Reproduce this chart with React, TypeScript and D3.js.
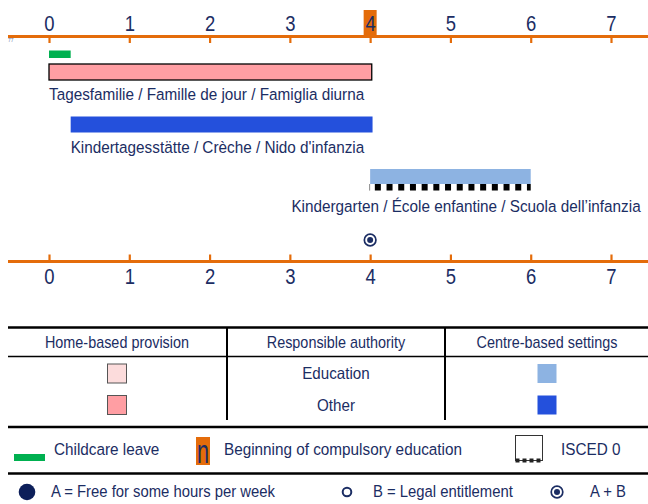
import React, { useRef, useEffect } from 'react'
import * as d3 from 'd3'

// ages on the axis (years)
const years = [0, 1, 2, 3, 4, 5, 6, 7]
const compulsoryAge = 4
const childcareLeave = [0, 0.27]

// settings shown as bars
const settingLabels = [
  'Tagesfamilie / Famille de jour / Famiglia diurna',
  "Kindertagesstätte / Crèche / Nido d'infanzia",
  'Kindergarten / École enfantine / Scuola dell’infanzia',
]
const settingStart = [0, 0.27, 4]
const settingEnd = [4.02, 4.03, 6]
const settingType = ['home-other', 'centre-other', 'centre-education']
const settingIsced = [false, false, true]
const entitlementAges = [4] // A + B

// legend table
const tableHeaders = ['Home-based provision', 'Responsible authority', 'Centre-based settings']
const authorities = ['Education', 'Other']
const authorityKeys = ['education', 'other']

const FONT = "'Liberation Sans', Arial, sans-serif"
const NAVY = '#1b2d63'
const ORANGE = '#e46c0a'
const colors: Record<string, string> = {
  'home-education': '#fcdcdc',
  'home-other': '#ff9ea3',
  'centre-education': '#8db3e2',
  'centre-other': '#2450dc',
}

// no narrow font installed, so squeeze the glyphs horizontally (about their x) like Arial Narrow
const condense = (sel: d3.Selection<any, any, any, any>, k = 0.9) => {
  sel.each(function (this: SVGTextElement) {
    const tx = +(this.getAttribute('x') || 0)
    d3.select(this).attr('transform', `translate(${tx},0) scale(${k},1) translate(${-tx},0)`)
  })
  return sel
}

const App = () => {
  const svgRef = useRef<SVGSVGElement>(null)

  useEffect(() => {
    const svg = d3.select(svgRef.current)
    svg.selectAll('*').remove()
    svg.attr('font-family', FONT)

    const left = 8
    const right = 648
    const x = d3.scaleLinear().domain([0, 7]).range([49, 611])

    // tiny note in the corner
    svg.append('text').attr('x', 8).attr('y', 42).attr('font-size', 5).attr('fill', '#6878a8').text('77')

    // highlight of the compulsory age
    svg.append('rect')
      .attr('x', x(compulsoryAge) - 6.5).attr('y', 10)
      .attr('width', 13).attr('height', 26)
      .attr('fill', ORANGE)

    const drawAxis = (y: number, axis: d3.Axis<d3.NumberValue>) => {
      svg.append('line')
        .attr('x1', left).attr('x2', right).attr('y1', y).attr('y2', y)
        .attr('stroke', ORANGE).attr('stroke-width', 3)
      const g = svg.append('g').attr('transform', `translate(0,${y})`).call(axis)
      g.select('.domain').remove()
      g.attr('font-family', FONT).attr('font-size', 22)
      g.selectAll('.tick line').attr('stroke', ORANGE).attr('stroke-width', 2.2)
      condense(g.selectAll('.tick text').attr('fill', NAVY), 0.84)
    }

    drawAxis(36.5, d3.axisTop(x).tickValues(years).tickSize(-6.5).tickPadding(5.5).tickFormat(d3.format('d')))
    drawAxis(261.5, d3.axisBottom(x).tickValues(years).tickSize(-7).tickPadding(6.8).tickFormat(d3.format('d')))

    // childcare leave
    svg.append('rect')
      .attr('x', x(childcareLeave[0])).attr('y', 50.5)
      .attr('width', x(childcareLeave[1]) - x(childcareLeave[0])).attr('height', 7.5)
      .attr('fill', '#00b050')

    // setting bars
    const row = d3.scaleLinear().domain([0, 2]).range([64, 169])
    const barH = 16
    settingLabels.forEach((label, i) => {
      const top = row(i)
      const x0 = x(settingStart[i])
      const x1 = x(settingEnd[i])
      const isHome = settingType[i].startsWith('home')
      svg.append('rect')
        .attr('x', x0).attr('y', top)
        .attr('width', x1 - x0).attr('height', settingIsced[i] ? barH - 1 : barH)
        .attr('fill', colors[settingType[i]])
        .attr('stroke', isHome ? '#000' : 'none')
        .attr('stroke-width', 1.3)

      let extra = 0
      if (settingIsced[i]) {
        const sy = top + barH - 1 + 3.3
        svg.append('line')
          .attr('x1', x0).attr('x2', x1).attr('y1', sy).attr('y2', sy)
          .attr('stroke', '#000').attr('stroke-width', 6.5)
          .attr('stroke-dasharray', '6 5.7').attr('stroke-dashoffset', 7)
        svg.append('line')
          .attr('x1', x0 - 0.5).attr('x2', x0 - 0.5).attr('y1', sy - 3.3).attr('y2', sy + 3.3)
          .attr('stroke', '#888').attr('stroke-width', 1)
        extra = 6.5
      }

      const t = svg.append('text')
        .attr('x', x0).attr('y', top + barH + extra + 20.5)
        .attr('font-size', 17).attr('fill', NAVY)
        .text(label)
      const w = (t.node() as SVGTextElement).getComputedTextLength() * 0.9
      if (x0 + w > right - 7) t.attr('x', right - 7 - w)
      condense(t)
    })

    const circleDot = (cx: number, cy: number) => {
      svg.append('circle').attr('cx', cx).attr('cy', cy).attr('r', 5.8)
        .attr('fill', '#fff').attr('stroke', NAVY).attr('stroke-width', 1.7)
      svg.append('circle').attr('cx', cx).attr('cy', cy).attr('r', 3).attr('fill', NAVY)
    }
    entitlementAges.forEach(a => circleDot(x(a), 240))

    // table legend
    const cols = [left, 227, 445, right]
    const colMid = [117, 336, 547]
    const hline = (y: number, w: number) => svg.append('line')
      .attr('x1', left).attr('x2', right).attr('y1', y).attr('y2', y)
      .attr('stroke', '#000').attr('stroke-width', w)
    hline(327.5, 2.5)
    hline(356.5, 1.5)
    hline(427, 2.5)
    cols.slice(1, 3).forEach(cx => {
      svg.append('line').attr('x1', cx).attr('x2', cx).attr('y1', 327).attr('y2', 420)
        .attr('stroke', '#000').attr('stroke-width', 2)
    })
    tableHeaders.forEach((h, i) => {
      condense(svg.append('text').attr('x', colMid[i]).attr('y', 348.3)
        .attr('text-anchor', 'middle').attr('font-size', 16).attr('fill', NAVY).text(h))
    })
    const rowMid = [373.5, 405]
    authorities.forEach((a, i) => {
      const cy = rowMid[i]
      svg.append('rect').attr('x', colMid[0] - 9.5).attr('y', cy - 9.5).attr('width', 19).attr('height', 19)
        .attr('fill', colors['home-' + authorityKeys[i]]).attr('stroke', '#555').attr('stroke-width', 1)
      condense(svg.append('text').attr('x', colMid[1]).attr('y', cy + 6)
        .attr('text-anchor', 'middle').attr('font-size', 16.5).attr('fill', NAVY).text(a), 0.92)
      svg.append('rect').attr('x', colMid[2] - 9.5).attr('y', cy - 9.5).attr('width', 19).attr('height', 19)
        .attr('fill', colors['centre-' + authorityKeys[i]])
    })

    // symbol legend
    const legendText = (tx: number, ty: number, s: string, size = 17) =>
      condense(svg.append('text').attr('x', tx).attr('y', ty).attr('font-size', size).attr('fill', NAVY).text(s))

    svg.append('rect').attr('x', 14).attr('y', 454).attr('width', 31).attr('height', 7).attr('fill', '#00b050')
    legendText(54, 455.5, 'Childcare leave')

    svg.append('rect').attr('x', 196).attr('y', 437).attr('width', 14).attr('height', 28).attr('fill', ORANGE)
    svg.append('text').attr('transform', 'translate(203,463) scale(0.9,1.4)')
      .attr('text-anchor', 'middle').attr('font-size', 24).attr('fill', NAVY).text('n')
    legendText(224, 455.5, 'Beginning of compulsory education')

    svg.append('rect').attr('x', 515.5).attr('y', 435.5).attr('width', 27).attr('height', 25)
      .attr('fill', '#fff').attr('stroke', '#333').attr('stroke-width', 1)
    svg.append('line').attr('x1', 515.5).attr('x2', 542.5).attr('y1', 460.5).attr('y2', 460.5)
      .attr('stroke', '#222').attr('stroke-width', 4).attr('stroke-dasharray', '4 3')
    legendText(561, 455.5, 'ISCED 0')

    hline(473.5, 2.5)

    svg.append('circle').attr('cx', 27).attr('cy', 492).attr('r', 8.3).attr('fill', '#0d1f5a')
    legendText(51, 497.5, 'A = Free for some hours per week', 16.5)
    svg.append('circle').attr('cx', 347).attr('cy', 492).attr('r', 4.3)
      .attr('fill', 'none').attr('stroke', NAVY).attr('stroke-width', 2)
    legendText(373, 497.5, 'B = Legal entitlement', 16.5)
    circleDot(557, 492)
    legendText(590, 497.5, 'A + B', 16.5)
  }, [])

  return (
    <svg ref={svgRef} width={648} height={504} style={{ position: 'absolute', left: 0, top: 0 }}></svg>
  )
}

export default App
